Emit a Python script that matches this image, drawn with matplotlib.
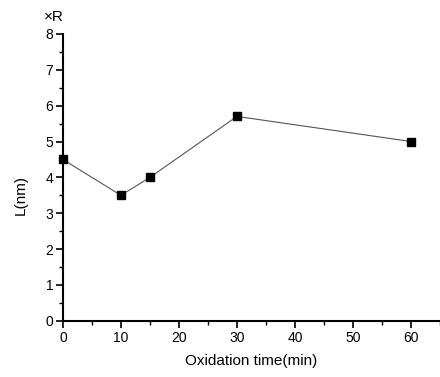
import matplotlib
matplotlib.use("Agg")
from matplotlib import pyplot as plt
from matplotlib.ticker import MultipleLocator

# data
time_min = [0, 10, 15, 30, 60]
length_nm = [4.5, 3.5, 4.0, 5.7, 5.0]

x_ticks = [0, 10, 20, 30, 40, 50, 60]
y_ticks = [0, 1, 2, 3, 4, 5, 6, 7, 8]

plt.rcParams['font.family'] = ['Liberation Sans', 'DejaVu Sans']

fig = plt.figure(figsize=(4.4, 3.77), dpi=100)
ax = fig.add_axes([0.143, 0.149, 0.857, 0.761])

ax.plot(time_min, length_nm, color='#555555', linewidth=0.8, zorder=2)
ax.plot(time_min, length_nm, linestyle='none', marker='s', markersize=5.5,
        color='black', zorder=3, clip_on=False)

ax.set_xlim(0, 65)
ax.set_ylim(0, 8)
ax.set_xticks(x_ticks)
ax.set_yticks(y_ticks)
ax.xaxis.set_minor_locator(MultipleLocator(5))
ax.yaxis.set_minor_locator(MultipleLocator(0.5))

ax.spines['top'].set_visible(False)
ax.spines['right'].set_visible(False)
ax.spines['left'].set_linewidth(1.5)
ax.spines['bottom'].set_linewidth(1.5)

ax.tick_params(which='major', direction='out', length=5, width=1.2,
               labelsize=10, pad=2)
ax.tick_params(which='minor', direction='out', length=3, width=1.0)

ax.set_xlabel('Oxidation time(min)', fontsize=11, labelpad=7)
ax.set_ylabel('L(nm)', fontsize=11, labelpad=11)
ax.yaxis.set_label_coords(-0.093, 0.44)

fig.text(0.100, 0.945, '×R', fontsize=11)

fig.savefig('out.png', dpi=100)
